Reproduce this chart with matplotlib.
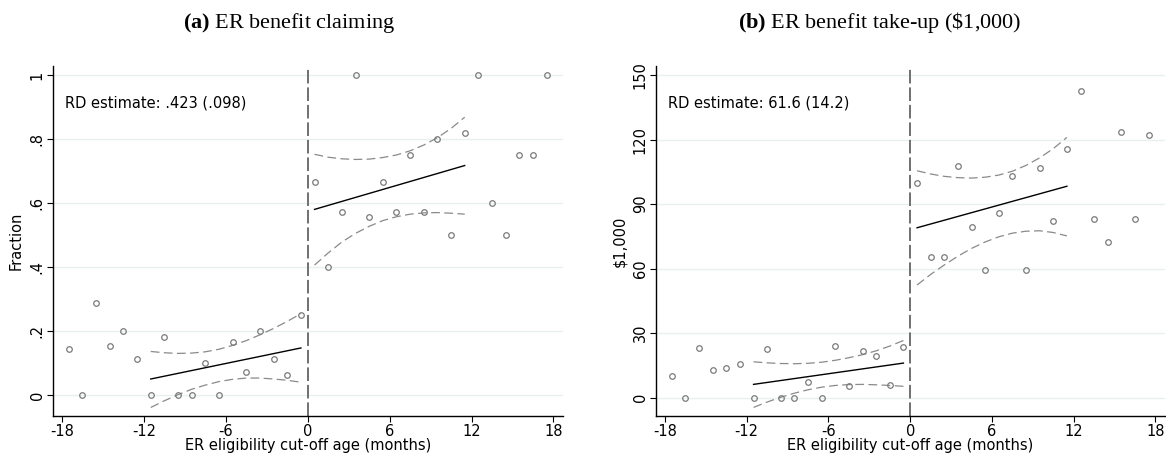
import numpy as np
import matplotlib
matplotlib.use("Agg")
import matplotlib.pyplot as plt

# ---------------- data ----------------
bins = [-17.5, -16.5, -15.5, -14.5, -13.5, -12.5, -11.5, -10.5, -9.5, -8.5, -7.5, -6.5,
        -5.5, -4.5, -3.5, -2.5, -1.5, -0.5, 0.5, 1.5, 2.5, 3.5, 4.5, 5.5, 6.5, 7.5, 8.5,
        9.5, 10.5, 11.5, 12.5, 13.5, 14.5, 15.5, 16.5, 17.5]

claim_frac = [0.143, 0.0, 0.286, 0.154, 0.2, 0.111, 0.0, 0.182, 0.0, 0.0, 0.1, 0.0,
              0.167, 0.071, 0.2, 0.111, 0.0625, 0.25, 0.667, 0.4, 0.571, 1.0, 0.556, 0.667,
              0.571, 0.75, 0.571, 0.8, 0.5, 0.818, 1.0, 0.6, 0.5, 0.75, 0.75, 1.0]

takeup_k = [10.1, 0.0, 23.1, 12.7, 13.7, 15.8, 0.0, 22.8, 0.0, 0.0, 7.3, 0.0,
            24.2, 5.3, 21.9, 19.5, 6.0, 23.4, 100.0, 65.6, 65.4, 107.9, 79.5, 59.5,
            86.0, 103.1, 59.2, 106.6, 82.0, 115.6, 142.6, 83.1, 72.2, 123.7, 83.2, 122.0]

fit_x_left = [-11.5, -10.5, -9.5, -8.5, -7.5, -6.5, -5.5, -4.5, -3.5, -2.5, -1.5, -0.5]
fit_x_right = [0.5, 1.5, 2.5, 3.5, 4.5, 5.5, 6.5, 7.5, 8.5, 9.5, 10.5, 11.5]

# panel a fits (endpoints of linear fit) and CI bands
a_fit_left = [0.050, 0.147]
a_fit_right = [0.580, 0.717]
a_ci_up_left = [0.136, 0.132, 0.130, 0.131, 0.135, 0.143, 0.155, 0.170, 0.188, 0.208, 0.230, 0.254]
a_ci_lo_left = [-0.039, -0.018, 0.001, 0.018, 0.031, 0.042, 0.049, 0.053, 0.053, 0.050, 0.046, 0.040]
a_ci_up_right = [0.752, 0.743, 0.738, 0.736, 0.737, 0.742, 0.750, 0.763, 0.781, 0.804, 0.833, 0.868]
a_ci_lo_right = [0.406, 0.444, 0.478, 0.505, 0.527, 0.545, 0.557, 0.565, 0.569, 0.570, 0.568, 0.565]

# panel b
b_fit_left = [6.2, 16.1]
b_fit_right = [79.0, 98.3]
b_ci_up_left = [16.7, 16.2, 15.9, 15.8, 16.0, 16.5, 17.4, 18.6, 20.0, 21.8, 24.0, 26.6]
b_ci_lo_left = [-4.5, -2.0, 0.2, 2.1, 3.7, 4.9, 5.7, 6.1, 6.2, 6.0, 5.7, 5.3]
b_ci_up_right = [105.5, 104.0, 102.9, 102.3, 102.1, 102.5, 103.5, 105.3, 108.0, 111.5, 115.8, 121.0]
b_ci_lo_right = [52.4, 57.3, 61.7, 65.8, 69.4, 72.4, 74.8, 76.5, 77.4, 77.6, 76.8, 75.2]

x_ticks = [-18, -12, -6, 0, 6, 12, 18]
a_yticks = [0, 0.2, 0.4, 0.6, 0.8, 1.0]
a_yticklabels = ["0", ".2", ".4", ".6", ".8", "1"]
b_yticks = [0, 30, 60, 90, 120, 150]
b_yticklabels = ["0", "30", "60", "90", "120", "150"]

# ---------------- style ----------------
plt.rcParams['font.family'] = ['DejaVu Sans']
plt.rcParams['mathtext.fontset'] = 'custom'
plt.rcParams['mathtext.rm'] = 'Liberation Serif'
plt.rcParams['mathtext.bf'] = 'Liberation Serif:bold'

W, H = 1166, 454
fig = plt.figure(figsize=(W / 100, H / 100), dpi=100)

grid_col = "#e8f0f1"
pt_col = "#7a7a7a"
ci_col = "#8a8a8a"
fs = 10.5


def make_panel(rect, y, fit_l, fit_r, up_l, lo_l, up_r, lo_r, ylim, yticks, yticklabels,
               ylabel, rd_text, rd_y):
    ax = fig.add_axes(rect)
    ax.set_xlim(-18.66, 18.7)
    ax.set_ylim(*ylim)
    for yt in yticks:
        ax.axhline(yt, color=grid_col, lw=1.0, zorder=0)
    ax.axvline(0, color="#707070", lw=1.4, dashes=(7, 2), zorder=1)
    ax.plot(bins, y, linestyle="none", marker="o", ms=4, mfc="none", mec=pt_col, mew=0.9, zorder=3)
    ax.plot([fit_x_left[0], fit_x_left[-1]], fit_l, color="black", lw=1.0, zorder=2)
    ax.plot([fit_x_right[0], fit_x_right[-1]], fit_r, color="black", lw=1.0, zorder=2)
    for xs, ys in ((fit_x_left, up_l), (fit_x_left, lo_l), (fit_x_right, up_r), (fit_x_right, lo_r)):
        ax.plot(xs, ys, color=ci_col, lw=0.9, dashes=(7, 3.5), zorder=2)
    ax.spines['top'].set_visible(False)
    ax.spines['right'].set_visible(False)
    ax.spines['left'].set_linewidth(1.0)
    ax.spines['bottom'].set_linewidth(1.0)
    ax.set_xticks(x_ticks)
    ax.set_xticklabels([str(v) for v in x_ticks], fontsize=fs)
    ax.set_yticks(yticks)
    ax.set_yticklabels(yticklabels, fontsize=fs, rotation=90, va="center")
    ax.tick_params(axis='both', direction='out', length=4, width=0.8, pad=2)
    ax.set_xlabel("ER eligibility cut-off age (months)", fontsize=fs, labelpad=-1)
    ax.set_ylabel(ylabel, fontsize=fs, labelpad=4)
    ax.text(-17.75, rd_y, rd_text, fontsize=fs, va="center", ha="left")
    return ax


axa = make_panel([53 / W, 1 - 416 / H, 510 / W, 350 / H], claim_frac,
                 a_fit_left, a_fit_right, a_ci_up_left, a_ci_lo_left, a_ci_up_right, a_ci_lo_right,
                 (-0.0656, 1.028), a_yticks, a_yticklabels, "Fraction",
                 "RD estimate: .423 (.098)", 0.913)
axb = make_panel([656 / W, 1 - 416 / H, 509 / W, 350 / H], takeup_k,
                 b_fit_left, b_fit_right, b_ci_up_left, b_ci_lo_left, b_ci_up_right, b_ci_lo_right,
                 (-8.5, 154.2), b_yticks, b_yticklabels, "$1,000",
                 "RD estimate: 61.6 (14.2)", 137.1)

fig.text(289 / W, 1 - 28 / H, r"$\mathbf{(a)}$ ER benefit claiming", family="Liberation Serif",
         fontsize=16, ha="center", va="baseline")
fig.text(880 / W, 1 - 28 / H, r"$\mathbf{(b)}$ ER benefit take-up (\$1,000)", family="Liberation Serif",
         fontsize=16, ha="center", va="baseline")

fig.savefig("out.png", dpi=100)
